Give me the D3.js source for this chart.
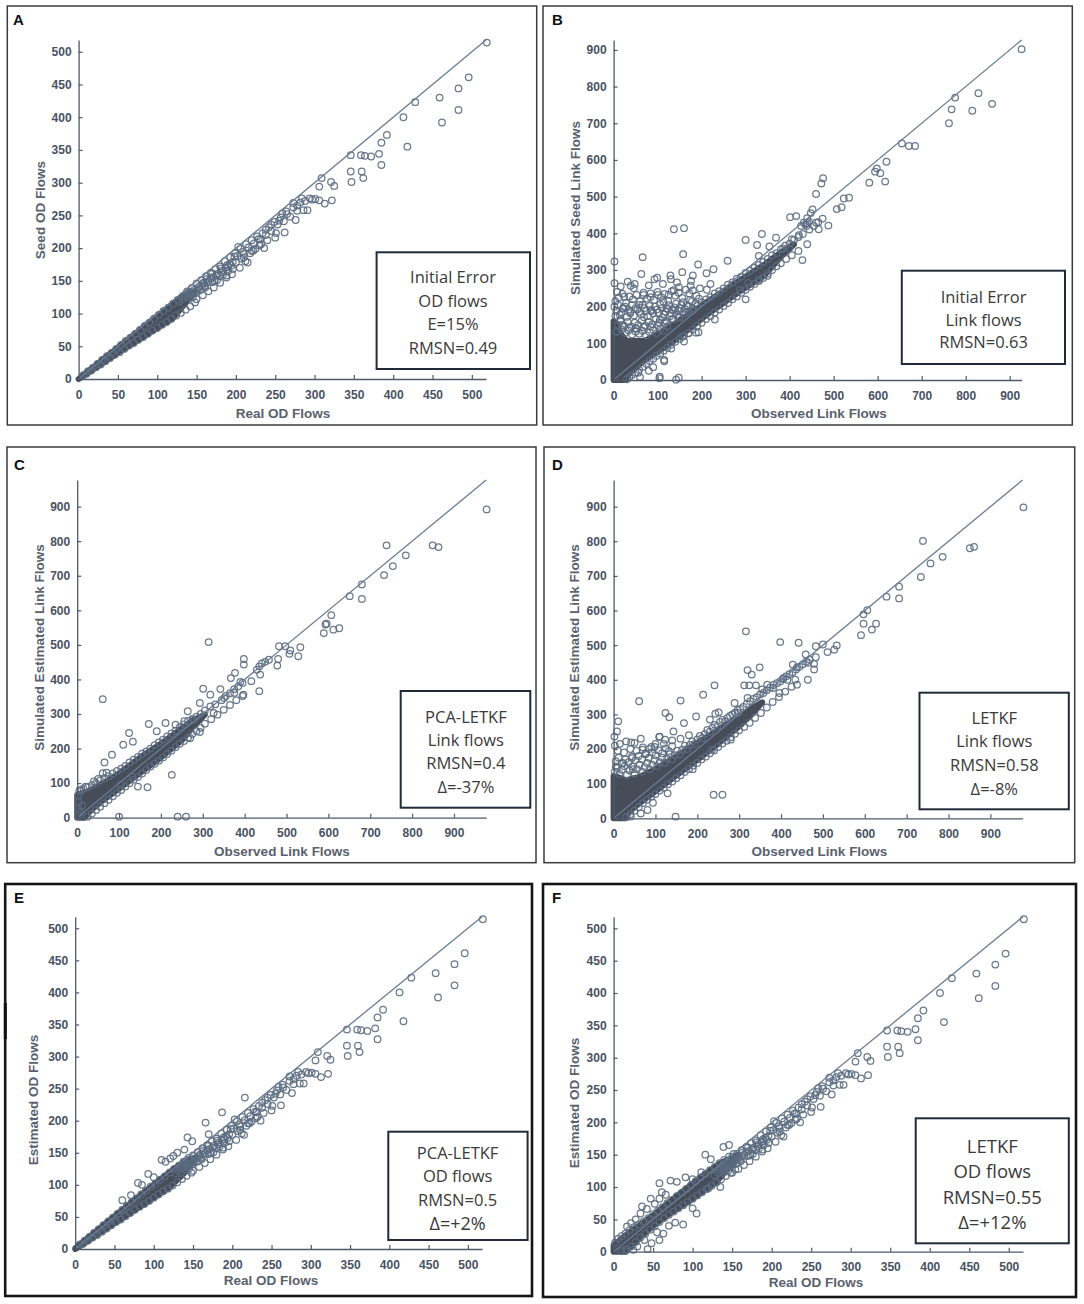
<!DOCTYPE html>
<html><head><meta charset="utf-8">
<script src="https://cdn.jsdelivr.net/npm/d3@7"></script>
<style>
html,body{margin:0;padding:0;background:#fff;}
svg{display:block;}
</style></head><body>
<svg id="chart" width="1084" height="1304"></svg>
<script>
// ---------- tick labels ----------
const odTicks = [0,50,100,150,200,250,300,350,400,450,500];
const linkTicks = [0,100,200,300,400,500,600,700,800,900];

// ---------- box labels ----------
const labelsA = ["Initial Error","OD flows","E=15%","RMSN=0.49"];
const labelsB = ["Initial Error","Link flows","RMSN=0.63"];
const labelsC = ["PCA-LETKF","Link flows","RMSN=0.4","Δ=-37%"];
const labelsD = ["LETKF","Link flows","RMSN=0.58","Δ=-8%"];
const labelsE = ["PCA-LETKF","OD flows","RMSN=0.5","Δ=+2%"];
const labelsF = ["LETKF","OD flows","RMSN=0.55","Δ=+12%"];

// ---------- OD flow points shared by A, E, F ----------
const odHighPoints = [[519,514],[496,461],[483,444],[459,430],[483,411],[462,392],[428,423],[413,400],[418,355],[392,373],[385,361],[382,344],[385,327],[372,340],[364,341],[359,342],[346,342],[346,317],[347,301],[360,317],[362,307],[309,307],[306,294],[321,301],[325,295],[322,273],[313,268],[301,275],[297,274],[306,273],[284,276],[286,258],[291,258],[276,243],[278,257],[273,269],[264,256],[259,253],[262,224],[251,223],[245,236],[255,242],[236,200],[238,220],[229,214],[222,196],[212,180],[210,191],[203,202],[198,187],[192,176],[190,171],[188,158],[181,169],[176,151],[170,161],[163,153],[159,146]];
const odMidPoints = [[135,128],[138,134],[141,131],[144,139],[147,136],[150,146],[153,141],[156,151],[159,147],[162,157],[165,150],[168,162],[171,156],[174,168],[177,161],[180,172],[183,166],[186,180],[189,174],[193,186],[196,179],[199,192],[202,188],[206,199],[209,194],[213,206],[216,201],[220,212],[223,207],[227,218],[231,213],[234,223],[238,228],[242,232],[245,226],[249,240],[253,236],[257,247],[261,241],[265,252],[269,248],[273,262],[278,265],[282,270],[288,272],[294,276],[250,216],[240,212],[232,206],[225,199],[218,192],[207,184],[196,168],[184,160],[173,150],[161,140],[149,132],[140,124],
  [150,122],[158,128],[165,134],[172,140],[180,147],[188,155],[195,160],[205,170],[215,178],[150,135],[160,142],[170,148],[180,158],[190,165],[145,125],[155,136],
  [128,118],[132,122],[136,126],[140,128],[143,133],[146,130],[152,138],[157,143],[163,147],[168,154],[175,158],[182,163],[187,170],[194,173],[200,178],[210,186],[220,196],[230,204]];

// ---------- panel A ----------
const aBandHull = [[0,0],[25,24],[50,48],[75,72],[100,96],[120,115],[135,128],[148,134],[135,115],[120,93],[100,78],[75,59],[50,40],[25,20],[8,6],[0,0]];
const aBandEdge = [[6,6],[12,12],[18,17],[24,23],[30,29],[36,35],[42,40],[48,46],[54,52],[60,58],[66,63],[72,69],[78,75],[84,81],[90,86],[96,92],[102,98],[108,104],[114,109],[120,115],[126,121],[132,126],[138,131],
  [10,8],[16,13],[22,18],[28,22],[34,27],[40,32],[46,37],[52,41],[58,46],[64,51],[70,55],[76,60],[82,64],[88,69],[94,74],[100,78],[106,83],[112,87],[118,92],[124,97],[130,101],[136,106],[142,111],[148,117]];

// ---------- panel E ----------
const eBandHull = [[0,1],[25,26],[50,51],[75,76],[100,100],[125,124],[140,137],[152,142],[140,120],[120,96],[100,80],[75,60],[50,40],[25,20],[8,6],[0,0]];
const eBandEdge = [[6,7],[12,13],[18,19],[24,25],[30,31],[36,37],[42,43],[48,49],[54,55],[60,61],[66,67],[72,73],[78,79],[84,85],[90,91],[96,97],[102,102],[108,108],[114,113],[120,119],[126,125],[132,130],[138,136],[144,142],
  [10,8],[16,13],[22,18],[28,22],[34,27],[40,32],[46,37],[52,42],[58,46],[64,51],[70,56],[76,61],[82,66],[88,70],[94,75],[100,80],[106,85],[112,90],[118,94],[124,99],[130,104],[136,109],[142,114],[148,119]];
const eOutliers = [[216,236],[187,213],[166,197],[143,174],[149,168],[139,155],[170,179],[110,139],[121,141],[115,136],[93,117],[80,103],[71,84],[60,76],[130,150],[125,145],[100,112],[85,100]];

// ---------- panel F ----------
const fBandHull = [[0,10],[15,25],[30,38],[50,56],[80,86],[110,115],[135,137],[158,150],[140,122],[130,108],[100,82],[70,58],[50,40],[35,24],[22,8],[14,0],[0,0]];
const fBandEdge = [[2,14],[6,20],[10,24],[15,28],[20,33],[26,38],[32,42],[38,47],[44,52],[50,58],[56,63],[62,69],[68,75],[74,80],[80,86],[86,91],[92,97],[98,103],[104,109],[110,115],[116,120],[122,126],[128,131],[134,137],[140,142],[146,147],[152,151],
  [10,1],[16,4],[22,8],[28,15],[34,22],[40,28],[46,34],[52,40],[58,46],[64,52],[70,57],[76,62],[82,67],[88,72],[94,77],[100,82],[106,87],[112,92],[118,97],[124,102],[130,107],[136,112],[142,117],[148,122],[154,127]];
const fOutliers = [[146,165],[139,162],[116,150],[123,143],[111,123],[91,115],[80,108],[72,110],[58,106],[61,92],[47,82],[58,82],[36,70],[34,59],[22,44],[17,39],[28,50],[42,66],[52,74],[66,88],[100,112],
  [88,42],[78,45],[63,28],[58,18],[43,4],[48,13],[39,18],[100,67],[105,59],[70,40],[55,30],[30,8],[135,100],[120,98],[25,3],[15,1]];

// ---------- panel B ----------
const bHull = [[0,0],[0,160],[6,155],[14,128],[30,106],[70,106],[130,145],[206,208],[282,268],[342,314],[380,348],[410,370],[380,336],[342,284],[282,238],[206,173],[130,100],[70,54],[40,23],[30,8],[28,0]];
const bOutliers = [[927,902],[829,782],[860,753],[815,734],[776,770],[768,738],[762,700],[655,645],[671,638],[685,638],[620,595],[598,577],[594,568],[606,564],[617,541],[581,538],[535,497],[523,495],[518,471],[507,466],[488,421],[466,411],[460,429],[476,550],[472,536],[460,507],[448,455],[452,465],[440,441],[432,429],[426,420],[415,447],[401,444],[429,327],[421,395],[405,384],[385,359],[399,359],[369,388],[354,364],[337,398],[326,368],[300,382],[330,338],[350,284],[331,273],[306,265],[287,245],[259,325],[227,302],[211,291],[192,315],[180,285],[160,414],[137,411],[158,343],[129,285],[130,275],[93,275],[99,279],[66,335],[63,289],[39,257],[46,250],[32,268],[24,227],[2,323],[2,264],[84,236],[68,232],[101,232],[125,232],[148,253],[137,245],[175,257],[156,294],[193,130],[115,55],[105,9],[148,6],[80,25],[56,20],[131,86],[156,118],[170,127],[22,195],[16,164],[6,132],[58,205],[85,191],[38,182],[69,171],[50,141],[113,214],[121,195],[140,191],[105,164],[436,425],[440,428],[444,432],[438,420],
  [115,51],[142,1],[104,5],[187,129],[60,8],[90,35],[160,105],[230,165],[300,220]];
const bTexture = [[18,138],[26,128],[34,135],[42,124],[50,132],[58,126],[66,134],[74,122],[82,130],[90,136],[98,128],[106,140],[114,134],[122,146],
  [4,175],[10,150],[16,160],[24,148],[32,158],[40,146],[48,156],[56,150],[64,162],[72,148],[80,158],[88,152],[96,166],[104,156],[112,170],[120,160],[128,174],[136,166],[144,178],
  [6,188],[14,178],[22,196],[30,172],[38,186],[46,176],[54,192],[62,180],[70,196],[78,174],[86,188],[94,200],[102,184],[110,196],[118,186],[126,204],[134,192],[142,208],[150,196],[158,212],[166,204],[174,218],
  [4,215],[12,225],[28,210],[44,220],[60,214],[76,222],[92,218],[108,226],[124,216],[140,230],[156,224],[172,236],[188,230],
  [8,132],[20,150],[36,142],[52,140],[68,144],[84,146],[100,150],[116,156],[132,166],[148,172],[164,184],[180,190],
  [2,200],[10,205],[18,185],[26,200],[34,192],[42,205],[50,196],[58,186],[66,205],[74,188],[82,202],[90,182],[98,192],[106,206],[114,180],[122,194],[130,182],[138,198],[146,190],[154,205],[162,194],[170,200],[178,214],[186,208],[194,222],
  [8,240],[20,235],[36,228],[52,232],[68,238],[84,226],[100,240],[116,235],[132,242],[148,238],[164,246],[180,244],[196,250],[212,246],
  [16,255],[48,262],[80,258],[112,262],[144,266],[176,270],[220,262],
  [150,170],[160,180],[170,186],[180,196],[190,202],[200,212],[210,220],[220,226],[230,236],[240,242],[250,250],[260,260],[270,266],[280,276],[290,282],[300,292],[310,298],[320,306],[330,314],[340,322],[350,330],[360,340],[370,346],[380,356],[390,366],[400,372],[410,382],[420,390],[430,398],[445,410],[455,420],[465,430],[475,440],
  [30,2],[36,8],[42,14],[50,20],[58,28],[66,36],[74,44],[82,52],[90,58],[98,66],[106,72],[114,80],[122,88],[130,96],[140,104],[150,112],[160,120],[170,128],[180,138],[190,148],[200,156],[210,166],[220,174],[230,184],[240,192],[250,202],[260,210],[270,220],[280,228],[290,238],[300,246],[310,254],[320,262],[330,270],[340,278],[350,290],[360,300],[370,310],[380,318],[392,330],[405,340],[420,352],[440,370]];

// ---------- panel C ----------
const cHull = [[0,0],[0,66],[12,71],[30,78],[60,98],[100,128],[150,174],[200,214],[250,258],[280,284],[305,298],[280,268],[250,224],[200,174],[150,129],[100,84],[60,49],[35,24],[22,8],[18,0]];
const cOutliers = [[978,892],[849,788],[863,783],[739,788],[785,759],[754,728],[733,702],[680,675],[680,633],[651,641],[607,586],[596,561],[593,559],[589,534],[612,544],[626,548],[533,493],[528,467],[509,484],[507,474],[482,496],[497,496],[480,459],[478,440],[458,457],[449,451],[441,446],[435,438],[437,414],[429,428],[435,366],[416,395],[398,459],[398,443],[377,419],[367,404],[390,393],[397,356],[342,372],[301,373],[314,508],[61,343],[293,248],[270,230],[226,124],[171,271],[168,88],[124,245],[110,211],[133,220],[83,182],[65,160],[61,129],[100,3],[240,3],[260,3],[104,95],[145,90],[132,119],[326,303],[351,346],[375,361],[318,356],[293,332],[277,283],[264,308],[256,279],[235,269],[211,274],[190,250],[40,105],[50,112],[70,130],[20,90],[10,80]];
const cTexture = [[5,78],[15,84],[25,88],[35,94],[45,100],[55,108],[65,114],[75,120],[85,128],[95,135],[105,142],[115,150],[125,160],[135,168],[145,176],[155,185],[165,192],[175,200],[185,210],[195,218],[205,226],[215,235],[225,244],[235,252],[245,262],[255,270],[265,280],[275,286],[285,292],[295,300],[305,310],[318,322],[330,328],[345,340],[355,352],[365,360],[375,372],[385,380],[395,390],
  [25,3],[35,12],[45,22],[55,32],[65,42],[75,52],[85,62],[95,72],[105,80],[115,90],[125,100],[135,110],[145,118],[155,128],[165,138],[175,148],[185,156],[195,165],[205,174],[215,184],[225,194],[235,204],[245,214],[255,222],[265,232],[275,242],[285,250],[295,260],[305,272],[320,285],[335,298],[350,312],[365,326],[380,340],[395,352],
  [3,5],[3,25],[3,45],[3,65],[8,15],[12,35]];

// ---------- panel D ----------
const dHull = [[0,0],[0,122],[10,119],[30,110],[60,119],[100,142],[150,178],[200,218],[250,254],[300,294],[330,318],[355,335],[330,300],[300,266],[250,216],[200,169],[150,124],[100,78],[62,44],[44,26],[33,11],[27,0]];
const dOutliers = [[979,898],[739,801],[851,780],[861,784],[786,755],[757,736],[734,697],[682,669],[682,635],[652,640],[606,601],[597,589],[597,562],[617,545],[627,562],[591,529],[533,499],[527,487],[511,480],[500,502],[483,497],[483,465],[479,446],[479,430],[459,473],[442,507],[398,509],[316,540],[349,436],[320,428],[330,415],[312,384],[324,384],[340,384],[241,384],[214,357],[160,340],[133,292],[124,304],[61,338],[11,280],[8,251],[2,236],[42,219],[109,235],[143,251],[168,275],[197,294],[230,285],[243,302],[251,306],[289,333],[297,304],[320,348],[355,372],[367,386],[381,376],[396,362],[405,405],[415,400],[434,400],[438,386],[464,400],[465,449],[438,436],[428,444],[239,68],[260,68],[148,5],[129,72],[94,45],[81,24],[65,14],[41,5],[189,142],[235,198],[280,227],[110,236],[90,206],[69,198],[44,174],[23,159],[5,150],[46,142],[77,188],[98,206],[123,227]];
const dTexture = [[3,135],[8,145],[14,128],[20,140],[26,150],[32,125],[38,138],[44,150],[50,130],[56,142],[62,155],[68,135],[74,148],[80,160],[86,142],[92,155],[98,168],[104,150],[110,162],[116,175],[122,160],[128,172],[134,185],[140,170],[146,182],[152,195],[158,185],[164,198],[170,210],[176,200],[182,212],[188,222],[194,215],[200,228],[206,238],[212,232],[218,244],[224,255],[230,250],[236,262],[242,270],[248,266],[254,278],[260,285],[266,280],[272,290],[278,296],[284,300],[290,305],[296,312],[302,316],[310,322],[318,330],[326,338],[334,345],[342,350],[350,358],[358,362],[366,370],[374,378],[382,385],[390,390],[398,395],[405,402],[412,410],[420,416],[428,422],[436,430],[444,438],[452,445],[460,452],[468,458],
  [5,165],[12,175],[20,160],[28,170],[36,162],[44,178],[52,168],[60,180],[68,170],[76,185],[84,175],[92,190],[100,182],[108,196],[116,188],[124,202],[132,194],[140,208],[10,195],[25,190],[40,200],[55,195],[70,205],[85,200],[100,215],[120,215],[140,225],[160,230],[180,240],[3,210],[15,215],[30,222],[50,218],[65,230],
  [30,3],[40,12],[50,22],[60,32],[70,44],[80,54],[90,62],[100,70],[110,80],[120,88],[130,98],[140,106],[150,116],[160,124],[170,134],[180,142],[190,152],[200,160],[210,170],[220,178],[230,188],[240,196],[250,206],[260,216],[270,224],[280,234],[290,244],[300,254],[312,264],[325,276],[338,290],[352,304],[366,320],[380,336],[395,350],[410,366],[425,380]];

// ---------- layout ----------
const panels = [
  {letter:"A", frame:[7.3,6,536.7,425], fsw:1.5, x0:78.6, x1:486, y0:379, y1:40, max:518, ticks:odTicks,
   hull:aBandHull, pts:[aBandEdge, odMidPoints, odHighPoints], box:[376.6,252.3,530,369], cx:453, lines:[276,300,323,347], fs:[16.5,16.5,16.5,16.5], labels:labelsA,
   lp:[13,25], xt:"Real OD Flows", xtp:[283,413], yt:"Seed OD Flows", ytp:[40,210]},
  {letter:"B", frame:[543,6,1072.3,425], fsw:1.5, x0:613.6, x1:1021.6, y0:380, y1:40, max:927, ticks:linkTicks,
   hull:bHull, pts:[bTexture, bOutliers], box:[901.8,270.7,1065,364], cx:983.6, lines:[296,319.3,341.7], fs:[16.5,16.5,16.5], labels:labelsB,
   lp:[552,25], xt:"Observed Link Flows", xtp:[819,413], yt:"Simulated Seed Link Flows", ytp:[575.5,208]},
  {letter:"C", frame:[7,447,536,862.7], fsw:1.5, x0:77.2, x1:486.2, y0:817.7, y1:480, max:977, ticks:linkTicks,
   hull:cHull, pts:[cTexture, cOutliers], box:[400.7,691,530.3,807.7], cx:465.9, lines:[716,739,762.7,786], fs:[16.5,16.5,16.5,16.5], labels:labelsC,
   lp:[14,470], xt:"Observed Link Flows", xtp:[282,851], yt:"Simulated Estimated Link Flows", ytp:[39,647.5]},
  {letter:"D", frame:[544,447,1074.7,862.7], fsw:1.5, x0:613.6, x1:1022.6, y0:818.3, y1:480, max:977, ticks:linkTicks,
   hull:dHull, pts:[dTexture, dOutliers], box:[919.5,692.7,1068.8,809.3], cx:994.3, lines:[717.3,740.7,764,788.3], fs:[16.5,16.5,16.5,16.5], labels:labelsD,
   lp:[552,470], xt:"Observed Link Flows", xtp:[819.5,851], yt:"Simulated Estimated Link Flows", ytp:[574.7,647.5]},
  {letter:"E", frame:[5.2,884,532,1296], fsw:2.6, x0:75.2, x1:482, y0:1249, y1:916.7, max:518, ticks:odTicks,
   hull:eBandHull, pts:[eBandEdge, odMidPoints, odHighPoints, eOutliers], box:[388.3,1131.7,527.6,1240], cx:457.6, lines:[1152.3,1175.7,1199,1223.3], fs:[16.5,16.5,16.5,18], labels:labelsE,
   lp:[14,903], xt:"Real OD Flows", xtp:[271,1280], yt:"Estimated OD Flows", ytp:[33,1100]},
  {letter:"F", frame:[543,884,1076,1297], fsw:2.6, x0:613.6, x1:1023, y0:1251.7, y1:916.7, max:518, ticks:odTicks,
   hull:fBandHull, pts:[fBandEdge, odMidPoints, odHighPoints, fOutliers], box:[915.7,1118.3,1068.8,1243.3], cx:992.3, lines:[1145,1170,1196,1221.7], fs:[18.5,18.5,18.5,18.5], labels:labelsF,
   lp:[552,903], xt:"Real OD Flows", xtp:[816,1282], yt:"Estimated OD Flows", ytp:[574,1103]}
];

const svg = d3.select("#chart");
const AX = "#4e5a6c", PT = "#5b6a80", DENSE = "#464d58", LINE = "#6a7b93";
const TICKF = "'Liberation Sans', Arial, sans-serif";

panels.forEach(p => {
  const g = svg.append("g");
  const [fx0, fy0, fx1, fy1] = p.frame;
  g.append("rect").attr("x", fx0).attr("y", fy0).attr("width", fx1 - fx0).attr("height", fy1 - fy0)
    .attr("fill", "#fff").attr("stroke", p.fsw > 2 ? "#151515" : "#3b3b3b").attr("stroke-width", p.fsw);

  const x = d3.scaleLinear().domain([0, p.max]).range([p.x0, p.x1]);
  const y = d3.scaleLinear().domain([0, p.max]).range([p.y0, p.y1]);

  // saturated core where the circles overlap completely (stroke widens it by one circle radius)
  const line = d3.line().x(d => x(d[0])).y(d => y(d[1]));
  g.append("path").attr("d", line(p.hull) + "Z").attr("fill", DENSE).attr("stroke", DENSE)
    .attr("stroke-width", 6).attr("stroke-linejoin", "round");

  // points
  const all = [].concat(...p.pts);
  g.append("g").selectAll("circle").data(all).join("circle")
    .attr("cx", d => x(d[0])).attr("cy", d => y(d[1])).attr("r", 3.3)
    .attr("fill", "none").attr("stroke", PT).attr("stroke-width", 1.25).attr("stroke-opacity", 0.9);

  // identity line
  g.append("path").attr("d", line([[0, 0], [p.max, p.max]])).attr("stroke", LINE).attr("stroke-width", 1.3).attr("fill", "none");

  // axes
  const xa = d3.axisBottom(x).tickValues(p.ticks).tickSizeInner(-4).tickSizeOuter(0).tickPadding(11).tickFormat(d3.format("d"));
  const ya = d3.axisLeft(y).tickValues(p.ticks).tickSizeInner(-4).tickSizeOuter(0).tickPadding(7).tickFormat(d3.format("d"));
  const gx = g.append("g").attr("transform", `translate(0,${p.y0})`).call(xa);
  const gy = g.append("g").attr("transform", `translate(${p.x0},0)`).call(ya);
  [gx, gy].forEach(a => {
    a.select(".domain").attr("stroke", AX).attr("stroke-width", 1.3);
    a.selectAll(".tick line").attr("stroke", AX).attr("stroke-width", 1.2);
    a.selectAll(".tick text").attr("fill", "#485263").attr("font-family", TICKF).attr("font-size", 12).attr("font-weight", "bold");
  });

  // axis titles
  g.append("text").attr("x", p.xtp[0]).attr("y", p.xtp[1]).attr("text-anchor", "middle").attr("dominant-baseline", "central")
    .attr("font-family", TICKF).attr("font-size", 13.5).attr("font-weight", "bold").attr("fill", "#59616e").text(p.xt);
  g.append("text").attr("transform", `translate(${p.ytp[0]},${p.ytp[1]}) rotate(-90)`).attr("text-anchor", "middle").attr("dominant-baseline", "central")
    .attr("font-family", TICKF).attr("font-size", 13.5).attr("font-weight", "bold").attr("fill", "#59616e").text(p.yt);

  // panel letter
  g.append("text").attr("x", p.lp[0]).attr("y", p.lp[1]).attr("font-family", TICKF).attr("font-weight", "bold").attr("font-size", 15).attr("fill", "#111").text(p.letter);

  // annotation box
  const [bx0, by0, bx1, by1] = p.box;
  g.append("rect").attr("x", bx0).attr("y", by0).attr("width", bx1 - bx0).attr("height", by1 - by0)
    .attr("fill", "#fff").attr("stroke", "#1f2b3b").attr("stroke-width", 2);
  p.labels.forEach((t, i) => {
    g.append("text").attr("x", p.cx).attr("y", p.lines[i]).attr("text-anchor", "middle").attr("dominant-baseline", "central")
      .attr("font-family", "'Open Sans', 'Noto Sans', sans-serif").attr("font-size", p.fs[i]).attr("fill", "#3a3a3a").text(t);
  });
});

// small dark mark on the left edge of panel E (as in the source image)
svg.append("rect").attr("x", 3.8).attr("y", 1003).attr("width", 3).attr("height", 36).attr("fill", "#111");
</script></body></html>
